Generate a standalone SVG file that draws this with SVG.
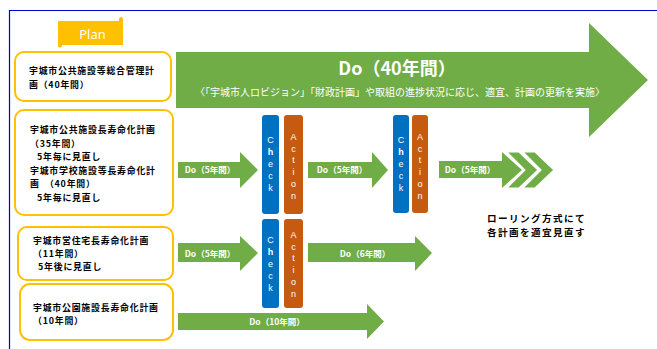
<svg xmlns="http://www.w3.org/2000/svg" width="657" height="349" viewBox="0 0 657 349">
<style>
.bg{fill:#ffffff}
.frame{fill:none;stroke:#0000CC;stroke-width:1.2}
.plan{fill:#ffffff;stroke:#FFC000;stroke-width:2}
.jp{font-family:"Noto Sans CJK JP","Noto Sans",sans-serif;font-weight:bold;fill:#000000;font-size:8.9px;letter-spacing:0.8px}
.green{fill:#70AD47}
.chev{fill:#70AD47;stroke:#ffffff;stroke-width:1.2}
.lbl{font-family:"Noto Sans CJK JP","Noto Sans",sans-serif;font-weight:bold;fill:#ffffff;font-size:8.5px;text-anchor:middle}
.check{fill:#0070C0}
.action{fill:#C55A11}
.vt{font-family:"Liberation Sans","Noto Sans",sans-serif;fill:#ffffff;font-size:9px;text-anchor:middle}
.roll{font-family:"Noto Sans CJK JP","Noto Sans",sans-serif;font-weight:bold;fill:#000000;font-size:9.6px;letter-spacing:1.4px}
</style>
<rect class="bg" x="0" y="0" width="657" height="349"/>
<path class="frame" d="M9.5,349 V10.5 H657"/>

<g id="plan-tab">
<path d="M58,21 H119 V19 Q119,17 121,17 Q123,17 123,19 V45 H62 V46 Q62,47.5 60,47.5 Q58,47.5 58,46 Z" fill="#FFC000"/>
<path d="M119,21 Q121,21 121,19" fill="none" stroke="#E6AC00" stroke-width="0.8"/>
<text x="92.5" y="39" font-family="'Noto Sans','Open Sans',sans-serif" font-size="13" fill="#ffffff" text-anchor="middle">Plan</text>
</g>

<g id="plan-general">
<rect class="plan" x="15" y="52" width="156" height="49" rx="9"/>
<text class="jp" x="29" y="74">宇城市公共施設等総合管理計</text>
<text class="jp" x="29" y="88">画（40年間）</text>
</g>

<g id="plan-facilities">
<rect class="plan" x="15" y="110" width="158" height="105" rx="9"/>
<text class="jp" x="30" y="133">宇城市公共施設長寿命化計画</text>
<text class="jp" x="30" y="146.5">（35年間）</text>
<text class="jp" x="37" y="160">5年毎に見直し</text>
<text class="jp" x="30" y="173.5">宇城市学校施設等長寿命化計</text>
<text class="jp" x="30" y="187">画　（40年間）</text>
<text class="jp" x="37" y="200.5">5年毎に見直し</text>
</g>

<g id="plan-housing">
<rect class="plan" x="18" y="227" width="155" height="53" rx="9"/>
<text class="jp" x="33" y="243.5">宇城市営住宅長寿命化計画</text>
<text class="jp" x="33" y="256.5">（11年間）</text>
<text class="jp" x="38" y="269.5">5年後に見直し</text>
</g>

<g id="plan-parks">
<rect class="plan" x="20" y="284" width="153" height="56" rx="10"/>
<text class="jp" x="33" y="310.5">宇城市公園施設長寿命化計画</text>
<text class="jp" x="33" y="323.5">（10年間）</text>
</g>

<g id="connectors">
<g id="do-40">
<polygon class="green" points="176,52 589,52 589,23 648,80 589,137 589,108 176,108"/>
<text x="397" y="75" font-family="'Noto Sans CJK JP','Noto Sans',sans-serif" font-weight="bold" font-size="18" fill="#ffffff" text-anchor="middle">Do（40年間）</text>
<text x="400" y="96" font-family="'Noto Sans CJK JP','Noto Sans',sans-serif" font-size="10" fill="#ffffff" text-anchor="middle">〈「宇城市人ロビジョン」「財政計画」や取組の進捗状況に応じ、適宜、計画の更新を実施〉</text>
</g>
<g id="do-5a">
<polygon class="green" points="178,162 240,162 240,152 258,170 240,188 240,178 178,178"/>
<text class="lbl" x="210" y="173">Do（5年間）</text>
</g>
<g id="do-5b">
<polygon class="green" points="308,162 372,162 372,152 388,170 372,188 372,178 308,178"/>
<text class="lbl" x="342" y="173">Do（5年間）</text>
</g>
<g id="do-5c">
<polygon class="green" points="439,161 502,161 502,152 522,170 502,188 502,178 439,178"/>
<polygon class="chev" points="507,152 519,152 538,170 519,188 507,188 525,170"/>
<polygon class="chev" points="523,152 535,152 554,170 535,188 523,188 541,170"/>
<text class="lbl" x="470" y="173">Do（5年間）</text>
</g>
<g id="do-5d">
<polygon class="green" points="178,243 240,243 240,236 258,253 240,271 240,262 178,262"/>
<text class="lbl" x="210" y="257">Do（5年間）</text>
</g>
<g id="do-6">
<polygon class="green" points="308,243 415,243 415,236 432,253 415,271 415,262 308,262"/>
<text class="lbl" x="365" y="257">Do（6年間）</text>
</g>
<g id="do-10">
<polygon class="green" points="178,313 367,313 367,304 384,321.5 367,339 367,330 178,330"/>
<text class="lbl" x="277" y="325">Do（10年間）</text>
</g>
</g>

<g id="check-1">
<rect class="check" x="262" y="115" width="17" height="99" rx="3"/>
<text class="vt" x="270.5" y="143">C</text>
<text class="vt" x="270.5" y="155" font-weight="bold">h</text>
<text class="vt" x="270.5" y="167">e</text>
<text class="vt" x="270.5" y="179">c</text>
<text class="vt" x="270.5" y="191">k</text>
</g>
<g id="action-1">
<rect class="action" x="284" y="115" width="19" height="99" rx="3"/>
<text class="vt" x="293.5" y="140">A</text>
<text class="vt" x="293.5" y="151.5">c</text>
<text class="vt" x="293.5" y="163">t</text>
<text class="vt" x="293.5" y="175">i</text>
<text class="vt" x="293.5" y="187">o</text>
<text class="vt" x="293.5" y="199">n</text>
</g>
<g id="check-2">
<rect class="check" x="393" y="115" width="16" height="98" rx="3"/>
<text class="vt" x="401" y="143">C</text>
<text class="vt" x="401" y="155" font-weight="bold">h</text>
<text class="vt" x="401" y="167">e</text>
<text class="vt" x="401" y="179">c</text>
<text class="vt" x="401" y="191">k</text>
</g>
<g id="action-2">
<rect class="action" x="412" y="115" width="16" height="98" rx="3"/>
<text class="vt" x="420" y="140">A</text>
<text class="vt" x="420" y="151.5">c</text>
<text class="vt" x="420" y="163">t</text>
<text class="vt" x="420" y="175">i</text>
<text class="vt" x="420" y="187">o</text>
<text class="vt" x="420" y="199">n</text>
</g>
<g id="check-3">
<rect class="check" x="262" y="219" width="17" height="89" rx="3"/>
<text class="vt" x="270.5" y="243">C</text>
<text class="vt" x="270.5" y="255" font-weight="bold">h</text>
<text class="vt" x="270.5" y="267">e</text>
<text class="vt" x="270.5" y="279">c</text>
<text class="vt" x="270.5" y="291">k</text>
</g>
<g id="action-3">
<rect class="action" x="284" y="219" width="19" height="89" rx="3"/>
<text class="vt" x="293.5" y="238">A</text>
<text class="vt" x="293.5" y="249.5">c</text>
<text class="vt" x="293.5" y="261">t</text>
<text class="vt" x="293.5" y="273">i</text>
<text class="vt" x="293.5" y="285">o</text>
<text class="vt" x="293.5" y="297">n</text>
</g>

<g id="rolling-note">
<text class="roll" x="487" y="222">ローリング方式にて</text>
<text class="roll" x="487" y="236">各計画を適宜見直す</text>
</g>
</svg>
